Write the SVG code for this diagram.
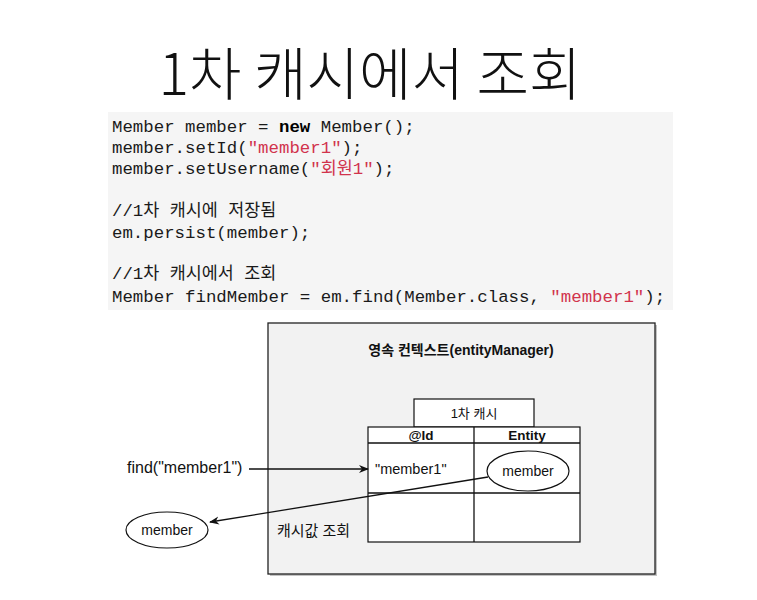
<svg xmlns="http://www.w3.org/2000/svg" width="757" height="600" viewBox="0 0 757 600">
<defs>
<style>
.title{font-family:"Noto Sans CJK KR","Noto Sans",sans-serif;font-size:57px;font-weight:300;fill:#111}
.code{font-family:"Liberation Mono","Noto Sans CJK KR",monospace;font-size:17.4px;fill:#1a1a1a}
.str{fill:#d1334c}
.kw{font-weight:bold;fill:#000}
.lbl{font-family:"Liberation Sans","Noto Sans CJK KR",sans-serif;fill:#111}
.box{fill:#fff;stroke:#111;stroke-width:1.2}
.edge{fill:none;stroke:#111;stroke-width:1.3}
</style>
<marker id="arr" viewBox="0 0 10 10" refX="9" refY="5" markerWidth="10" markerHeight="10" markerUnits="userSpaceOnUse" orient="auto">
<path d="M0,1 L10,5 L0,9 L3,5 Z" fill="#111"/>
</marker>
</defs>
<rect width="757" height="600" fill="#fff"/>
<text class="title" x="370" y="95" text-anchor="middle">1차 캐시에서 조회</text>

<g id="code">
<rect x="108" y="112" width="565" height="198" fill="#f5f5f5"/>
<text class="code" x="112" y="132">Member member = <tspan class="kw">new</tspan> Member();</text>
<text class="code" x="112" y="153">member.setId(<tspan class="str">"member1"</tspan>);</text>
<text class="code" x="112" y="174">member.setUsername(<tspan class="str">"회원1"</tspan>);</text>
<text class="code" x="112" y="216">//1차 캐시에 저장됨</text>
<text class="code" x="112" y="238">em.persist(member);</text>
<text class="code" x="112" y="279">//1차 캐시에서 조회</text>
<text class="code" x="112" y="302">Member findMember = em.find(Member.class, <tspan class="str">"member1"</tspan>);</text>
</g>

<g id="persistence-context">
<rect x="270" y="325" width="387" height="251" fill="#888" opacity="0.5"/>
<rect x="268" y="323" width="387" height="251" fill="#f2f2f2" stroke="#222" stroke-width="1.3"/>
<text class="lbl" x="461" y="355" font-size="14" font-weight="bold" text-anchor="middle">영속 컨텍스트(entityManager)</text>
<text class="lbl" x="277" y="536" font-size="15">캐시값 조회</text>
</g>

<g id="cache">
<rect class="box" x="414" y="399" width="120" height="28"/>
<text class="lbl" x="474" y="418" font-size="13" text-anchor="middle">1차 캐시</text>
<rect class="box" x="368" y="427" width="212" height="115"/>
<line class="edge" x1="368" y1="443" x2="580" y2="443"/>
<line class="edge" x1="474" y1="427" x2="474" y2="542"/>
<line class="edge" x1="368" y1="493" x2="580" y2="493"/>
<text class="lbl" x="421" y="440" font-size="13.5" font-weight="bold" text-anchor="middle">@Id</text>
<text class="lbl" x="527" y="440" font-size="13.5" font-weight="bold" text-anchor="middle">Entity</text>
<text class="lbl" x="375" y="474" font-size="14.5">"member1"</text>
</g>

<g id="cached-member">
<ellipse class="box" cx="528" cy="471" rx="41" ry="20"/>
<text class="lbl" x="528" y="476" font-size="14" text-anchor="middle">member</text>
</g>

<g id="find-call">
<text class="lbl" x="127" y="473" font-size="16">find("member1")</text>
</g>

<g id="result-member">
<ellipse class="box" cx="167" cy="530" rx="41" ry="18"/>
<text class="lbl" x="167" y="535" font-size="14" text-anchor="middle">member</text>
</g>

<g id="connectors">
<line class="edge" x1="249" y1="469" x2="368" y2="469" marker-end="url(#arr)"/>
<line class="edge" x1="488" y1="477" x2="210" y2="522" marker-end="url(#arr)"/>
</g>
</svg>
